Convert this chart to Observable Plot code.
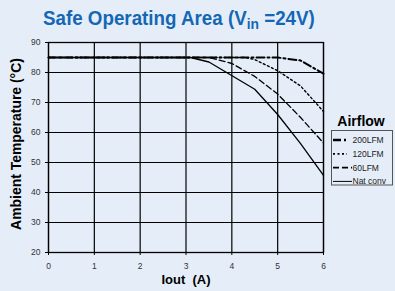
<!DOCTYPE html>
<html>
<head>
<meta charset="utf-8">
<script src="https://cdn.jsdelivr.net/npm/d3@7"></script>
<script src="https://cdn.jsdelivr.net/npm/@observablehq/plot@0.6"></script>
<style>
  html, body { margin: 0; padding: 0; background: #e5eef8; }
  #wrap { position: relative; width: 395px; height: 291px; background: #e5eef8; overflow: hidden; }
  #wrap svg { position: absolute; left: 0; top: 0; }
</style>
</head>
<body>
<div id="wrap"></div>
<script>
// ---- data ----
const seriesNames = ["200LFM", "120LFM", "60LFM", "Nat conv"];
const xTicks = [0, 1, 2, 3, 4, 5, 6];
const yTicks = [20, 30, 40, 50, 60, 70, 80, 90];

const iout200 = [0, 5.0, 5.5, 6.0];
const temp200 = [85, 85, 84, 79.6];

const iout120 = [0, 4.3, 4.5, 5.0, 5.5, 6.0];
const temp120 = [85, 85, 84.3, 80.6, 75.5, 67];

const iout60 = [0, 3.5, 4.0, 4.5, 5.0, 5.5, 6.0];
const temp60 = [85, 85, 83, 78.7, 72.8, 65, 56.5];

const ioutNat = [0, 3.1, 3.5, 4.5, 5.0, 5.5, 6.0];
const tempNat = [85, 85, 83.5, 74.4, 66, 56.3, 45.7];

const titleMain = "Safe Operating Area (V";
const titleSub = "in";
const titleEnd = " =24V)";
const xLabel = "Iout  (A)";
const yLabel = "Ambient Temperature (°C)";
const legendTitle = "Airflow";

// ---- build table ----
const xs = [iout200, iout120, iout60, ioutNat];
const ys = [temp200, temp120, temp60, tempNat];
const rows = [];
seriesNames.forEach((s, i) => xs[i].forEach((x, j) => rows.push({series: s, iout: x, temp: ys[i][j]})));

const styles = {
  "200LFM":  {dash: "8,3,2,3", width: 2},
  "120LFM":  {dash: "2,2.5", width: 1.4},
  "60LFM":   {dash: "6,3", width: 1.3},
  "Nat conv":{dash: null, width: 1.3}
};

const lineMarks = seriesNames.map(s => Plot.line(rows.filter(r => r.series === s), {
  x: "iout", y: "temp", stroke: "#000",
  strokeWidth: styles[s].width,
  strokeDasharray: styles[s].dash || undefined
}));

const chart = Plot.plot({
  width: 395, height: 291,
  marginLeft: 48, marginRight: 72, marginTop: 42, marginBottom: 39,
  style: {background: "transparent", fontFamily: "Liberation Sans, Arial, sans-serif"},
  x: {domain: [0, 6], ticks: xTicks},
  y: {domain: [20, 90], ticks: yTicks},
  marks: [
    Plot.gridX(xTicks, {stroke: "#000", strokeOpacity: 1, strokeWidth: 1.2}),
    Plot.gridY(yTicks, {stroke: "#000", strokeOpacity: 1, strokeWidth: 1.2}),
    Plot.frame({stroke: "#000", strokeWidth: 1.3}),
    Plot.axisX(xTicks, {tickSize: 3, tickPadding: 7, fontSize: 8.5, fill: "#333", label: null, tickFormat: d => d}),
    Plot.axisY(yTicks, {tickSize: 3, tickPadding: 5, fontSize: 8.5, fill: "#333", label: null, tickFormat: d => d}),
    ...lineMarks,
    Plot.text([xLabel], {frameAnchor: "bottom", dy: 31, text: d => d, fontWeight: "bold", fontSize: 13, fill: "#000"})
  ]
});
document.getElementById("wrap").appendChild(chart);

// ---- overlay: title, y label, legend ----
const ov = d3.select("#wrap").append("svg").attr("width", 395).attr("height", 291)
  .style("pointer-events", "none");

const tg = ov.append("g");
const t = tg.append("text").attr("x", 0).attr("y", 0)
  .attr("font-family", "'Liberation Sans', Arial, sans-serif")
  .attr("font-weight", "bold").attr("font-size", 21).attr("fill", "#1467b5");
t.append("tspan").text(titleMain);
t.append("tspan").attr("dy", 4).attr("font-size", 15.5).text(titleSub);
t.append("tspan").attr("dy", -4).text(titleEnd);
const tw = t.node().getComputedTextLength();
const k = tw > 0 ? 272 / tw : 1;
tg.attr("transform", `translate(43,24.5) scale(${k},1)`);

const yl = ov.append("text").attr("transform", "translate(20.5,144) rotate(-90)")
  .attr("text-anchor", "middle")
  .attr("font-family", "'Liberation Sans', Arial, sans-serif")
  .attr("font-weight", "bold").attr("font-size", 12).attr("fill", "#000").text(yLabel);
const yw = yl.node().getComputedTextLength();
if (yw > 0) yl.attr("font-size", 12 * 172 / yw);

const lg = ov.append("g").attr("font-family", "'Liberation Sans', Arial, sans-serif");
lg.append("text").attr("x", 361).attr("y", 126).attr("text-anchor", "middle")
  .attr("font-weight", "bold").attr("font-size", 14).attr("fill", "#000").text(legendTitle);
lg.append("rect").attr("x", 331.5).attr("y", 130.5).attr("width", 61).attr("height", 54.5)
  .attr("fill", "none").attr("stroke", "#555").attr("stroke-width", 1);
const sampleEnd = {"200LFM": 347, "120LFM": 347, "60LFM": 352, "Nat conv": 352};
seriesNames.forEach((s, i) => {
  const cy = 140 + i * 13.8;
  lg.append("line").attr("x1", 333).attr("x2", sampleEnd[s]).attr("y1", cy).attr("y2", cy)
    .attr("stroke", "#000").attr("stroke-width", s === "Nat conv" ? 1 : styles[s].width + 0.4)
    .attr("stroke-dasharray", styles[s].dash);
  lg.append("text").attr("x", 352.5).attr("y", cy).attr("dy", "0.35em")
    .attr("font-size", 8.5).attr("fill", "#222").text(s);
});
</script>
</body>
</html>
